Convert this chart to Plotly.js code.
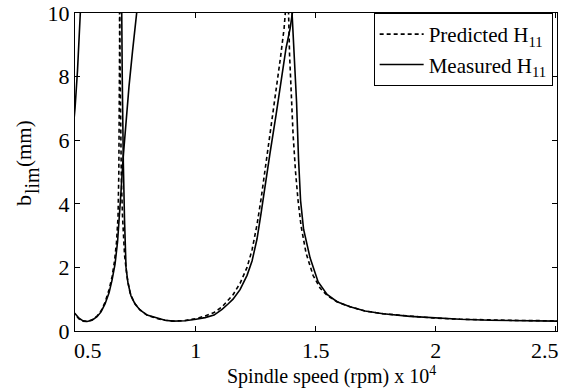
<!DOCTYPE html>
<html>
<head>
<meta charset="utf-8">
<script src="https://cdn.plot.ly/plotly-3.0.1.min.js"></script>
<style>html,body{margin:0;padding:0;background:#fff;}#chart{width:568px;height:391px;}</style>
</head>
<body>
<div id="chart"></div>
<script>
// Spindle speed (rpm) and limiting depth of cut b_lim (mm)
// Measured H11 (solid) lobes
const measLobe0Speed = [4887, 4971, 5075, 5200, 5230];
const measLobe0Blim  = [6.3, 7.0, 8.2, 10.0, 10.6];

const measLobeASpeed = [4846, 4971, 5138, 5304, 5471, 5679, 5888, 6054, 6221, 6388, 6513, 6638, 6742, 6825, 6888, 6971, 7096, 7221, 7367, 7542, 7575];
const measLobeABlim  = [0.62, 0.55, 0.40, 0.32, 0.30, 0.34, 0.45, 0.60, 0.85, 1.2, 1.6, 2.1, 2.8, 3.6, 4.4, 5.4, 6.6, 7.7, 8.8, 10.0, 10.25];

const measLobeBSpeed = [6904, 6917, 6938, 6958, 6983, 7033, 7096, 7179, 7304, 7471, 7679, 7971, 8388, 8721, 9054, 9554, 10013, 10388, 10763, 11096, 11346, 11554, 11846, 12138, 12346, 12554, 12721, 12888, 13096, 13346, 13554, 13763, 13929, 14033, 14075];
const measLobeBBlim  = [10.3, 10.0, 8.0, 6.5, 5.3, 3.5, 2.0, 1.5, 1.1, 0.85, 0.66, 0.50, 0.40, 0.34, 0.31, 0.32, 0.37, 0.42, 0.50, 0.68, 0.85, 1.0, 1.3, 1.75, 2.2, 2.9, 3.7, 4.6, 5.6, 6.8, 7.8, 8.9, 9.5, 10.0, 10.25];

const measLobeCSpeed = [13992, 14013, 14096, 14200, 14283, 14367, 14492, 14763, 15096, 15471, 15888, 16429, 17054, 17804, 18929, 19888, 21013, 22263, 23513, 25054, 25180];
const measLobeCBlim  = [10.3, 10.0, 8.6, 7.2, 5.4, 4.1, 3.2, 2.3, 1.55, 1.15, 0.92, 0.76, 0.63, 0.54, 0.46, 0.41, 0.37, 0.34, 0.32, 0.31, 0.31];

// Predicted H11 (dashed) lobes
const predLobeASpeed = [4846, 4971, 5138, 5304, 5471, 5679, 5888, 6054, 6221, 6388, 6513, 6617, 6700, 6763, 6796, 6817, 6829, 6838];
const predLobeABlim  = [0.60, 0.52, 0.38, 0.31, 0.30, 0.35, 0.47, 0.63, 0.90, 1.3, 1.7, 2.2, 2.8, 3.6, 5.0, 7.0, 9.0, 10.3];

const predLobeBSpeed = [6821, 6833, 6850, 6871, 6900, 6950, 7033, 7138, 7263, 7429, 7679, 7971, 8388, 8721, 9054, 9554, 10013, 10388, 10763, 11096, 11346, 11554, 11846, 12138, 12346, 12554, 12721, 12888, 13096, 13304, 13513, 13679, 13763];
const predLobeBBlim  = [10.3, 9.0, 7.5, 6.0, 4.8, 3.6, 2.4, 1.7, 1.2, 0.90, 0.66, 0.50, 0.39, 0.34, 0.31, 0.33, 0.39, 0.47, 0.58, 0.76, 0.95, 1.14, 1.5, 2.0, 2.55, 3.35, 4.15, 5.05, 6.2, 7.4, 8.5, 9.5, 10.3];

const predLobeCSpeed = [13846, 13867, 13908, 13971, 14054, 14158, 14263, 14388, 14596, 14888, 15179, 15471, 15888, 16429, 17054, 17804, 18929, 19888, 21013, 22263, 23513, 25180];
const predLobeCBlim  = [10.3, 10.0, 8.7, 7.4, 6.2, 5.0, 4.1, 3.3, 2.45, 1.75, 1.35, 1.12, 0.92, 0.76, 0.63, 0.54, 0.46, 0.41, 0.37, 0.34, 0.33, 0.32];

const xTickVals = [5000, 10000, 15000, 20000, 25000];
const xTickText = ['0.5', '1', '1.5', '2', '2.5'];
const yTickVals = [0, 2, 4, 6, 8, 10];
const yTickText = ['0', '2', '4', '6', '8', '10'];

function joinLobes(list) {
  const out = [];
  list.forEach((arr, i) => { if (i > 0) out.push(null); out.push(...arr); });
  return out;
}

const FONT = 'Liberation Serif';

const predicted = {
  type: 'scatter', mode: 'lines', name: 'Predicted H<sub>11</sub>',
  x: joinLobes([predLobeASpeed, predLobeBSpeed, predLobeCSpeed]),
  y: joinLobes([predLobeABlim, predLobeBBlim, predLobeCBlim]),
  connectgaps: false,
  line: {color: '#000', width: 1.6, dash: '4px,3px'}
};
const measured = {
  type: 'scatter', mode: 'lines', name: 'Measured H<sub>11</sub>',
  x: joinLobes([measLobe0Speed, measLobeASpeed, measLobeBSpeed, measLobeCSpeed]),
  y: joinLobes([measLobe0Blim, measLobeABlim, measLobeBBlim, measLobeCBlim]),
  connectgaps: false,
  line: {color: '#000', width: 1.6}
};

const TICK_SIZE = 22;
const axisCommon = {
  showline: true, linecolor: '#000', linewidth: 1, mirror: 'ticks',
  ticks: 'inside', ticklen: 5, tickcolor: '#000', tickwidth: 1,
  showgrid: false, zeroline: false,
  tickfont: {family: FONT, size: TICK_SIZE, color: '#000'}
};

// In the reference the two edge labels (0.5 and 2.5) sit inward of their ticks,
// so they are drawn as text aligned (vertically) with the real tick labels.
const edgeIdx = [0, xTickText.length - 1];
const EDGE_LABEL_X = [0.027, 0.975];  // paper x of the edge label centres
const xLabelsShown = xTickText.map((t, i) => edgeIdx.includes(i) ? '' : t);

function txt(text, x, y, size, angle) {
  return {text: text, xref: 'paper', yref: 'paper', x: x, y: y,
          xanchor: 'center', yanchor: 'middle', showarrow: false,
          textangle: angle || 0, font: {family: FONT, size: size, color: '#000'}};
}

const annotations = [
  txt('Spindle speed (rpm) x 10<sup>4</sup>', 0.533, -0.14, 20),
  // y-axis title b_lim(mm), with a full-size lowered "lim"
  txt('b', -0.1058, 0.409, 22, -90),
  txt('lim', -0.0892, 0.4717, 20, -90),
  txt('(mm)', -0.1058, 0.588, 21, -90),
  txt(xTickText[edgeIdx[0]], EDGE_LABEL_X[0], -0.04, TICK_SIZE),
  txt(xTickText[edgeIdx[1]], EDGE_LABEL_X[1], -0.04, TICK_SIZE)
];

const layout = {
  width: 568, height: 391,
  margin: {l: 75, r: 11, t: 13, b: 60},
  paper_bgcolor: '#fff', plot_bgcolor: '#fff',
  font: {family: FONT, color: '#000'},
  showlegend: true,
  xaxis: Object.assign({}, axisCommon, {
    range: [4970, 25050], tickmode: 'array', tickvals: xTickVals, ticktext: xLabelsShown
  }),
  yaxis: Object.assign({}, axisCommon, {
    range: [0, 10], tickmode: 'array', tickvals: yTickVals, ticktext: yTickText
  }),
  legend: {
    x: 0.991, xanchor: 'right', y: 1, yanchor: 'top',
    bgcolor: '#fff', bordercolor: '#000', borderwidth: 1,
    font: {family: FONT, size: 21, color: '#000'},
    tracegroupgap: 0, itemwidth: 44
  },
  annotations: annotations
};

Plotly.newPlot('chart', [predicted, measured], layout, {displayModeBar: false, staticPlot: true}).then(gd => {
  // align the two edge labels with the drawn tick labels
  const ref = Array.from(gd.querySelectorAll('.xtick text')).find(t => t.textContent === xTickText[1]);
  if (!ref) return;
  const r = ref.getBoundingClientRect();
  const g = gd.getBoundingClientRect();
  const sz = gd._fullLayout._size;
  const cy = r.top + r.height / 2 - g.top;
  const py = 1 - (cy - sz.t) / sz.h;
  const n = annotations.length;
  const upd = {};
  upd['annotations[' + (n - 2) + '].y'] = py;
  upd['annotations[' + (n - 1) + '].y'] = py;
  return Plotly.relayout(gd, upd);
});
</script>
</body>
</html>
